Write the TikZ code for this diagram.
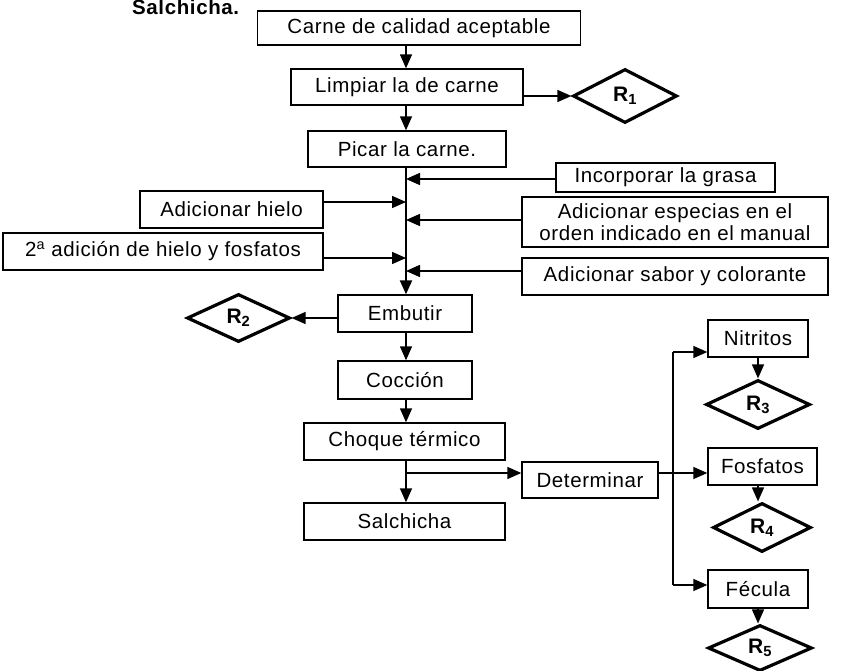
\documentclass[tikz,border=0pt]{standalone}
\usepackage{fontspec}
\setmainfont{Liberation Sans}[LetterSpace=3]
\usetikzlibrary{arrows.meta,shapes.geometric}

\tikzset{
  box/.style={draw, line width=1.4pt, inner sep=0pt, align=center,
    font=\fontsize{20.5}{22.5}\selectfont},
  res/.style={draw, diamond, line width=3.2pt, inner sep=0pt,
    font=\fontsize{21}{23}\selectfont\bfseries},
  arr/.style={line width=1.5pt, -{Triangle[length=14pt,width=12pt]}},
  ln/.style={line width=1.5pt}
}

\begin{document}
\begin{tikzpicture}[x=1pt,y=-1pt]
\useasboundingbox (0,0) rectangle (845,671);
\clip (0,0) rectangle (845,671);

% heading at the top edge
\node[anchor=base west, inner sep=0pt, font=\fontsize{20.5}{22}\selectfont\bfseries]
  (titulo) at (132,15) {Salchicha.};

% main column
\node[box, minimum width=323pt, minimum height=34pt] (carne) at (419,28) {Carne de calidad aceptable};
\node[box, minimum width=232pt, minimum height=36pt] (limpiar) at (407,87) {Limpiar la de carne};
\node[res, minimum width=104pt, minimum height=54pt] (r1) at (625,96) {R\textsubscript{1}};
\node[box, minimum width=198pt, minimum height=36pt] (picar) at (407,149) {Picar la carne.};

% additions along the mixing line
\node[box, minimum width=219pt, minimum height=29pt] (grasa) at (665.5,177.5) {Incorporar la grasa};
\node[box, minimum width=306pt, minimum height=50pt] (especias) at (675,222) {Adicionar especias en el\\orden indicado en el manual};
\node[box, minimum width=306pt, minimum height=37pt] (sabor) at (675,276.5) {Adicionar sabor y colorante};
\node[box, minimum width=183pt, minimum height=37pt] (hielo) at (231.5,209.5) {Adicionar hielo};
\node[box, minimum width=320pt, minimum height=37pt] (hielob) at (163,251.5) {2\textsuperscript{a} adición de hielo y fosfatos};

\node[box, minimum width=134pt, minimum height=37pt] (embutir) at (405,313.5) {Embutir};
\node[res, minimum width=103pt, minimum height=48pt] (r2) at (238.5,318) {R\textsubscript{2}};
\node[box, minimum width=134pt, minimum height=38pt] (coccion) at (405,380) {Cocción};
\node[box, minimum width=201pt, minimum height=37pt] (choque) at (404.5,441.5) {Choque térmico};
\node[box, minimum width=201pt, minimum height=37pt] (salchicha) at (404.5,521.5) {Salchicha};

% analyses
\node[box, minimum width=136pt, minimum height=36pt] (determinar) at (590,480) {Determinar};
\node[box, minimum width=100pt, minimum height=37pt] (nitritos) at (758,338.5) {Nitritos};
\node[res, minimum width=104pt, minimum height=49pt] (r3) at (758,404.5) {R\textsubscript{3}};
\node[box, minimum width=109pt, minimum height=37pt] (fosfatos) at (762.5,466.5) {Fosfatos};
\node[res, minimum width=98pt, minimum height=49pt] (r4) at (762,527.5) {R\textsubscript{4}};
\node[box, minimum width=100pt, minimum height=38pt] (fecula) at (758,589) {Fécula};
\node[res, minimum width=104pt, minimum height=46pt] (r5) at (760,648) {R\textsubscript{5}};

% junction points
\coordinate (mx) at (406,0);
\coordinate (jr1) at (0,96);
\coordinate (jgrasa) at (406,179);
\coordinate (jhielo) at (406,202);
\coordinate (jesp) at (406,220);
\coordinate (jhielob) at (406,258);
\coordinate (jsabor) at (406,271);
\coordinate (jdet) at (406,473);
\coordinate (bn) at (673,352);
\coordinate (bd) at (673,473);
\coordinate (bf) at (673,585);

% main flow
\draw[arr] (carne.south -| mx) -- (limpiar.north -| mx);
\draw[arr] (limpiar.east |- jr1) -- (r1.west);
\draw[arr] (limpiar.south -| mx) -- (picar.north -| mx);
\draw[arr, line width=2.2pt] (picar.south -| mx) -- (embutir.north -| mx);
\draw[arr] (grasa.west |- jgrasa) -- (jgrasa);
\draw[arr] (hielo.east |- jhielo) -- (jhielo);
\draw[arr] (especias.west |- jesp) -- (jesp);
\draw[arr] (hielob.east |- jhielob) -- (jhielob);
\draw[arr] (sabor.west |- jsabor) -- (jsabor);
\draw[arr] (embutir.west |- r2.east) -- (r2.east);
\draw[arr] (embutir.south -| mx) -- (coccion.north -| mx);
\draw[arr] (coccion.south -| mx) -- (choque.north -| mx);
\draw[arr] (choque.south -| mx) -- (salchicha.north -| mx);
\draw[arr] (jdet) -- (determinar.west |- jdet);

% branches to the analyses
\draw[ln] (determinar.east |- bd) -- (bd);
\draw[ln] (bn) -- (bf);
\draw[arr] (bn) -- (nitritos.west |- bn);
\draw[arr] (bd) -- (fosfatos.west |- bd);
\draw[arr] (bf) -- (fecula.west |- bf);
\draw[arr] (nitritos.south) -- (r3.north);
\draw[arr] (fosfatos.south -| nitritos.south) -- (r4.north -| nitritos.south);
\draw[arr] (fecula.south) -- (r5.north -| fecula.south);
\end{tikzpicture}
\end{document}
